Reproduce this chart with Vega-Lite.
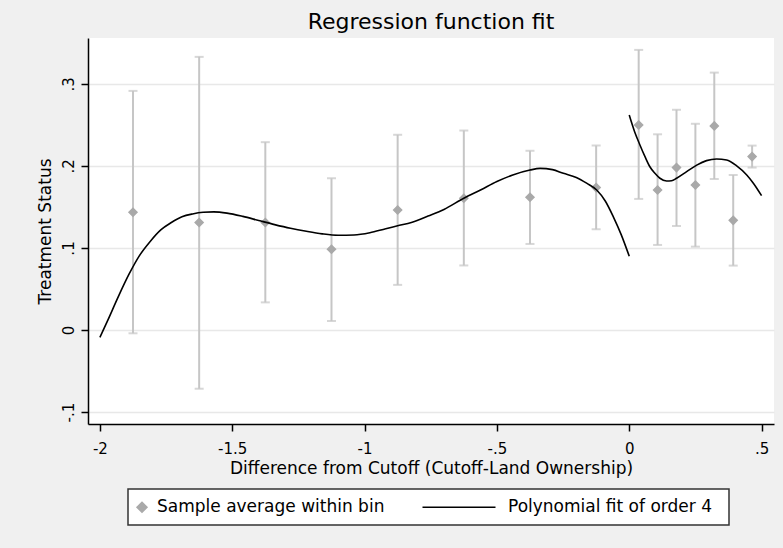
{
  "$schema": "https://vega.github.io/schema/vega-lite/v6.json",
  "width": 686,
  "height": 386,
  "autosize": "none",
  "padding": {"left": 88, "top": 38, "right": 9, "bottom": 124},
  "background": "#f0f0f0",
  "view": {"fill": "white", "stroke": null},
  "title": {"text": "Regression function fit", "font": "DejaVu Sans", "fontSize": 22, "fontWeight": "normal", "color": "black", "anchor": "middle", "baseline": "alphabetic", "frame": "group", "offset": -13},
  "datasets": {
    "bins": [
      {"x": -1.875, "mean": 0.1435, "lo": -0.004, "hi": 0.2915, "series": "Sample average within bin"},
      {"x": -1.625, "mean": 0.131, "lo": -0.0716, "hi": 0.333, "series": "Sample average within bin"},
      {"x": -1.375, "mean": 0.131, "lo": 0.0337, "hi": 0.229, "series": "Sample average within bin"},
      {"x": -1.125, "mean": 0.0984, "lo": 0.011, "hi": 0.185, "series": "Sample average within bin"},
      {"x": -0.875, "mean": 0.1463, "lo": 0.055, "hi": 0.238, "series": "Sample average within bin"},
      {"x": -0.625, "mean": 0.1606, "lo": 0.0787, "hi": 0.2432, "series": "Sample average within bin"},
      {"x": -0.375, "mean": 0.1618, "lo": 0.1049, "hi": 0.2185, "series": "Sample average within bin"},
      {"x": -0.125, "mean": 0.1736, "lo": 0.1228, "hi": 0.2248, "series": "Sample average within bin"},
      {"x": 0.0357, "mean": 0.25, "lo": 0.1598, "hi": 0.3415, "series": "Sample average within bin"},
      {"x": 0.1071, "mean": 0.1707, "lo": 0.1037, "hi": 0.2386, "series": "Sample average within bin"},
      {"x": 0.1786, "mean": 0.198, "lo": 0.1268, "hi": 0.2685, "series": "Sample average within bin"},
      {"x": 0.25, "mean": 0.1768, "lo": 0.1016, "hi": 0.2514, "series": "Sample average within bin"},
      {"x": 0.3214, "mean": 0.2488, "lo": 0.1841, "hi": 0.3138, "series": "Sample average within bin"},
      {"x": 0.3929, "mean": 0.1337, "lo": 0.0785, "hi": 0.189, "series": "Sample average within bin"},
      {"x": 0.4643, "mean": 0.2114, "lo": 0.198, "hi": 0.2248, "series": "Sample average within bin"}
    ],
    "curve": [
      {"side": "left", "x": -2.0, "y": -0.009},
      {"side": "left", "x": -1.97, "y": 0.012},
      {"side": "left", "x": -1.93, "y": 0.041},
      {"side": "left", "x": -1.89, "y": 0.068},
      {"side": "left", "x": -1.85, "y": 0.091},
      {"side": "left", "x": -1.81, "y": 0.108},
      {"side": "left", "x": -1.77, "y": 0.122},
      {"side": "left", "x": -1.73, "y": 0.131},
      {"side": "left", "x": -1.69, "y": 0.138},
      {"side": "left", "x": -1.65, "y": 0.1415},
      {"side": "left", "x": -1.61, "y": 0.1435},
      {"side": "left", "x": -1.57, "y": 0.144},
      {"side": "left", "x": -1.52, "y": 0.1425},
      {"side": "left", "x": -1.46, "y": 0.1385},
      {"side": "left", "x": -1.4, "y": 0.1335},
      {"side": "left", "x": -1.34, "y": 0.1285},
      {"side": "left", "x": -1.28, "y": 0.124},
      {"side": "left", "x": -1.22, "y": 0.1203},
      {"side": "left", "x": -1.16, "y": 0.1172},
      {"side": "left", "x": -1.1, "y": 0.1155},
      {"side": "left", "x": -1.04, "y": 0.1158},
      {"side": "left", "x": -0.98, "y": 0.1185},
      {"side": "left", "x": -0.92, "y": 0.1235},
      {"side": "left", "x": -0.875, "y": 0.127},
      {"side": "left", "x": -0.82, "y": 0.1315},
      {"side": "left", "x": -0.76, "y": 0.139},
      {"side": "left", "x": -0.7, "y": 0.147},
      {"side": "left", "x": -0.625, "y": 0.1606},
      {"side": "left", "x": -0.56, "y": 0.171},
      {"side": "left", "x": -0.5, "y": 0.181},
      {"side": "left", "x": -0.44, "y": 0.189},
      {"side": "left", "x": -0.375, "y": 0.195},
      {"side": "left", "x": -0.337, "y": 0.197},
      {"side": "left", "x": -0.29, "y": 0.1955},
      {"side": "left", "x": -0.249, "y": 0.191},
      {"side": "left", "x": -0.2, "y": 0.186},
      {"side": "left", "x": -0.161, "y": 0.179},
      {"side": "left", "x": -0.123, "y": 0.1707},
      {"side": "left", "x": -0.09, "y": 0.157},
      {"side": "left", "x": -0.06, "y": 0.138},
      {"side": "left", "x": -0.03, "y": 0.116},
      {"side": "left", "x": 0.0, "y": 0.09},
      {"side": "right", "x": 0.0, "y": 0.262},
      {"side": "right", "x": 0.02, "y": 0.242},
      {"side": "right", "x": 0.0404, "y": 0.2256},
      {"side": "right", "x": 0.06, "y": 0.211},
      {"side": "right", "x": 0.078, "y": 0.199},
      {"side": "right", "x": 0.097, "y": 0.191},
      {"side": "right", "x": 0.116, "y": 0.185},
      {"side": "right", "x": 0.141, "y": 0.1817},
      {"side": "right", "x": 0.16, "y": 0.182},
      {"side": "right", "x": 0.179, "y": 0.185},
      {"side": "right", "x": 0.217, "y": 0.193},
      {"side": "right", "x": 0.255, "y": 0.201},
      {"side": "right", "x": 0.292, "y": 0.2065},
      {"side": "right", "x": 0.33, "y": 0.2085},
      {"side": "right", "x": 0.368, "y": 0.2073},
      {"side": "right", "x": 0.406, "y": 0.2},
      {"side": "right", "x": 0.444, "y": 0.189},
      {"side": "right", "x": 0.469, "y": 0.179},
      {"side": "right", "x": 0.5, "y": 0.1638}
    ]
  },
  "config": {
    "axis": {
      "domainColor": "black", "domainWidth": 1.5,
      "tickColor": "black", "tickWidth": 1.5, "tickSize": 7,
      "labelFont": "DejaVu Sans", "labelFontSize": 15, "labelColor": "black",
      "titleFont": "DejaVu Sans", "titleFontSize": 17, "titleFontWeight": "normal", "titleColor": "black",
      "gridColor": "#e8e8e8", "gridWidth": 1.5
    },
    "legend": {"strokeWidth": 1.5}
  },
  "layer": [
    {
      "data": {"name": "bins"},
      "mark": {"type": "rule", "color": "#c6c6c6", "strokeWidth": 2},
      "encoding": {
        "x": {"field": "x", "type": "quantitative",
              "scale": {"domain": [-2.045, 0.547], "nice": false, "zero": false},
              "axis": {"title": "Difference from Cutoff (Cutoff-Land Ownership)", "values": [-2, -1.5, -1, -0.5, 0, 0.5],
                       "labelExpr": "(datum.value < 0 ? '-' : '') + replace(format(abs(datum.value), '~g'), '0.', '.')",
                       "grid": false, "labelPadding": 10, "labelFlush": false, "titleY": 49, "titleBaseline": "alphabetic"}},
        "y": {"field": "lo", "type": "quantitative",
              "scale": {"domain": [-0.1146, 0.356], "nice": false, "zero": false},
              "axis": {"title": "Treatment Status", "values": [-0.1, 0, 0.1, 0.2, 0.3],
                       "labelExpr": "(datum.value < 0 ? '-' : '') + replace(format(abs(datum.value), '~g'), '0.', '.')",
                       "grid": true, "labelAngle": -90, "labelAlign": "center", "labelBaseline": "alphabetic", "labelPadding": 8,
                       "titleX": -38, "titleY": 193, "titleAngle": -90, "titleAlign": "center", "titleBaseline": "alphabetic"}},
        "y2": {"field": "hi"}
      }
    },
    {
      "data": {"name": "bins"},
      "mark": {"type": "tick", "orient": "horizontal", "color": "#c6c6c6", "size": 9, "thickness": 2},
      "encoding": {
        "x": {"field": "x", "type": "quantitative"},
        "y": {"field": "lo", "type": "quantitative"}
      }
    },
    {
      "data": {"name": "bins"},
      "mark": {"type": "tick", "orient": "horizontal", "color": "#c6c6c6", "size": 9, "thickness": 2},
      "encoding": {
        "x": {"field": "x", "type": "quantitative"},
        "y": {"field": "hi", "type": "quantitative"}
      }
    },
    {
      "data": {"name": "bins"},
      "mark": {"type": "point", "filled": true, "size": 64, "strokeWidth": 1.5, "opacity": 1},
      "encoding": {
        "x": {"field": "x", "type": "quantitative"},
        "y": {"field": "mean", "type": "quantitative"},
        "color": {"field": "series", "type": "nominal",
                  "scale": {"domain": ["Sample average within bin", "Polynomial fit of order 4"], "range": ["#a9a9a9", "black"]},
                  "legend": {
                    "orient": "none", "legendX": 40, "legendY": 451, "direction": "horizontal", "columns": 2,
                    "title": null, "symbolSize": 100, "symbolOffset": -4, "symbolStrokeWidth": 1.5,
                    "labelFont": "DejaVu Sans", "labelFontSize": 17, "labelColor": "black", "labelLimit": 600,
                    "fillColor": "white", "strokeColor": "#333333", "padding": 9.5, "columnPadding": 35, "labelOffset": 6.5
                  }},
        "shape": {"field": "series", "type": "nominal",
                  "scale": {"domain": ["Sample average within bin", "Polynomial fit of order 4"], "range": ["diamond", "M-14.1,0H0.5M44.6,0"]}},
        "stroke": {"field": "series", "type": "nominal",
                   "scale": {"domain": ["Sample average within bin", "Polynomial fit of order 4"], "range": ["#a9a9a9", "black"]}}
      }
    },
    {
      "data": {"name": "curve"},
      "mark": {"type": "line", "color": "black", "strokeWidth": 1.6, "interpolate": "monotone"},
      "encoding": {
        "x": {"field": "x", "type": "quantitative"},
        "y": {"field": "y", "type": "quantitative"},
        "detail": {"field": "side", "type": "nominal"}
      }
    },
    {
      "mark": {"type": "rule", "color": "black", "strokeWidth": 1.5},
      "encoding": {"x": {"datum": 0}}
    }
  ]
}
